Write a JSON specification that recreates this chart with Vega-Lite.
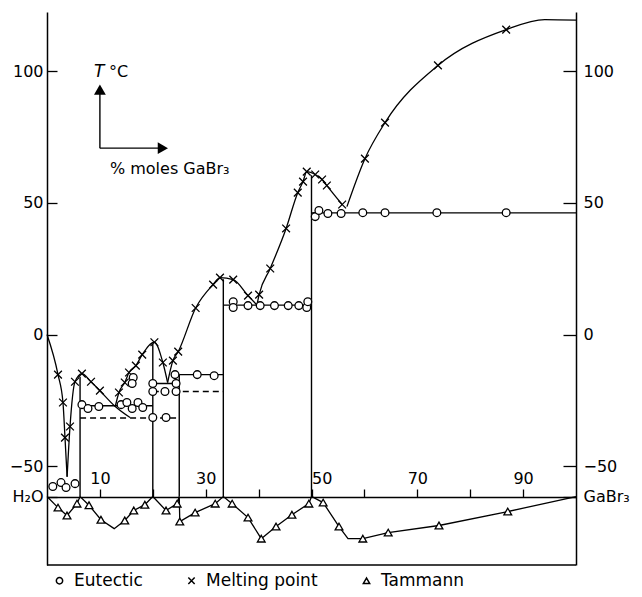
{
  "$schema": "https://vega.github.io/schema/vega-lite/v6.json",
  "width": 529,
  "height": 553,
  "autosize": {"type": "none"},
  "padding": {"left": 47, "top": 12, "right": 66, "bottom": 32},
  "background": "white",
  "config": {
    "view": {"stroke": null},
    "axis": {"grid": false, "domainColor": "black", "tickColor": "black", "labelColor": "black", "labelFont": "DejaVu Sans", "labelFontSize": 16, "domainWidth": 1.5, "tickWidth": 1.3, "labelOverlap": false, "labelFlush": false},
    "legend": {"labelFont": "DejaVu Sans", "labelFontSize": 17, "labelColor": "black"}
  },
  "datasets": {
    "pts": [
      {"kind": "Melting point", "g": "a", "i": 0, "x": 0, "t": 0, "m": 0},
      {"kind": "Melting point", "g": "a", "i": 1, "x": 2.08, "t": -15.2, "m": 1},
      {"kind": "Melting point", "g": "a", "i": 2, "x": 3.02, "t": -25.8, "m": 1},
      {"kind": "Melting point", "g": "a", "i": 3, "x": 3.4, "t": -39.1, "m": 1},
      {"kind": "Melting point", "g": "a", "i": 4, "x": 3.8, "t": -54, "m": 0},
      {"kind": "Melting point", "g": "b", "i": 0, "x": 3.8, "t": -54, "m": 0},
      {"kind": "Melting point", "g": "b", "i": 1, "x": 4.35, "t": -34.9, "m": 1},
      {"kind": "Melting point", "g": "b", "i": 2, "x": 5.29, "t": -17.9, "m": 1},
      {"kind": "Melting point", "g": "b", "i": 3, "x": 6.6, "t": -14.8, "m": 1},
      {"kind": "Melting point", "g": "b", "i": 4, "x": 8.32, "t": -17.9, "m": 1},
      {"kind": "Melting point", "g": "b", "i": 5, "x": 10.0, "t": -21.3, "m": 1},
      {"kind": "Melting point", "g": "b", "i": 6, "x": 12.9, "t": -27.3, "m": 0},
      {"kind": "Melting point", "g": "b", "i": 7, "x": 15.7, "t": -31.5, "m": 0},
      {"kind": "Melting point", "g": "c", "i": 0, "x": 12.9, "t": -27.3, "m": 0},
      {"kind": "Melting point", "g": "c", "i": 1, "x": 13.6, "t": -22.0, "m": 1},
      {"kind": "Melting point", "g": "c", "i": 2, "x": 14.7, "t": -18.2, "m": 1},
      {"kind": "Melting point", "g": "c", "i": 3, "x": 15.5, "t": -14.4, "m": 1},
      {"kind": "Melting point", "g": "c", "i": 4, "x": 16.8, "t": -11.8, "m": 1},
      {"kind": "Melting point", "g": "c", "i": 5, "x": 18.0, "t": -7.6, "m": 1},
      {"kind": "Melting point", "g": "c", "i": 6, "x": 20.3, "t": -2.9, "m": 1},
      {"kind": "Melting point", "g": "c", "i": 7, "x": 21.9, "t": -10.6, "m": 1},
      {"kind": "Melting point", "g": "c", "i": 8, "x": 22.8, "t": -18.2, "m": 0},
      {"kind": "Melting point", "g": "d", "i": 0, "x": 22.8, "t": -18.2, "m": 0},
      {"kind": "Melting point", "g": "d", "i": 1, "x": 23.8, "t": -9.9, "m": 1},
      {"kind": "Melting point", "g": "d", "i": 2, "x": 24.8, "t": -6.5, "m": 1},
      {"kind": "Melting point", "g": "d", "i": 3, "x": 28.1, "t": 10.1, "m": 1},
      {"kind": "Melting point", "g": "d", "i": 4, "x": 31.4, "t": 19.0, "m": 1},
      {"kind": "Melting point", "g": "d", "i": 5, "x": 32.7, "t": 21.6, "m": 1},
      {"kind": "Melting point", "g": "d", "i": 6, "x": 35.2, "t": 20.9, "m": 1},
      {"kind": "Melting point", "g": "d", "i": 7, "x": 38.0, "t": 14.8, "m": 1},
      {"kind": "Melting point", "g": "d", "i": 8, "x": 39.6, "t": 11.4, "m": 0},
      {"kind": "Melting point", "g": "e", "i": 0, "x": 39.7, "t": 11.4, "m": 0},
      {"kind": "Melting point", "g": "e", "i": 1, "x": 40.1, "t": 15.2, "m": 1},
      {"kind": "Melting point", "g": "e", "i": 2, "x": 42.2, "t": 25.1, "m": 1},
      {"kind": "Melting point", "g": "e", "i": 3, "x": 45.2, "t": 40.3, "m": 1},
      {"kind": "Melting point", "g": "e", "i": 4, "x": 47.4, "t": 53.9, "m": 1},
      {"kind": "Melting point", "g": "e", "i": 5, "x": 48.4, "t": 58.1, "m": 1},
      {"kind": "Melting point", "g": "e", "i": 6, "x": 49.1, "t": 61.9, "m": 1},
      {"kind": "Melting point", "g": "e", "i": 7, "x": 50.7, "t": 60.8, "m": 1},
      {"kind": "Melting point", "g": "e", "i": 8, "x": 52.0, "t": 58.9, "m": 1},
      {"kind": "Melting point", "g": "e", "i": 9, "x": 52.9, "t": 56.6, "m": 1},
      {"kind": "Melting point", "g": "e", "i": 10, "x": 55.8, "t": 49.4, "m": 1},
      {"kind": "Melting point", "g": "f", "i": 0, "x": 56.7, "t": 48.6, "m": 0},
      {"kind": "Melting point", "g": "f", "i": 1, "x": 60.1, "t": 66.8, "m": 1},
      {"kind": "Melting point", "g": "f", "i": 2, "x": 63.9, "t": 80.5, "m": 1},
      {"kind": "Melting point", "g": "f", "i": 3, "x": 73.9, "t": 102.2, "m": 1},
      {"kind": "Melting point", "g": "f", "i": 4, "x": 86.8, "t": 115.8, "m": 1},
      {"kind": "Melting point", "g": "f", "i": 5, "x": 94.1, "t": 119.6, "m": 0},
      {"kind": "Melting point", "g": "f", "i": 6, "x": 100, "t": 119.4, "m": 0},
      {"kind": "Tammann", "g": "t", "i": 0, "x": 0, "t": -61.5, "m": 0},
      {"kind": "Tammann", "g": "t", "i": 1, "x": 2.08, "t": -65.7, "m": 1},
      {"kind": "Tammann", "g": "t", "i": 2, "x": 3.78, "t": -68.7, "m": 1},
      {"kind": "Tammann", "g": "t", "i": 3, "x": 5.67, "t": -64.2, "m": 1},
      {"kind": "Tammann", "g": "t", "i": 4, "x": 6.25, "t": -61.5, "m": 0},
      {"kind": "Tammann", "g": "t", "i": 5, "x": 7.94, "t": -64.8, "m": 1},
      {"kind": "Tammann", "g": "t", "i": 6, "x": 10.2, "t": -70.3, "m": 1},
      {"kind": "Tammann", "g": "t", "i": 7, "x": 12.7, "t": -73.7, "m": 0},
      {"kind": "Tammann", "g": "t", "i": 8, "x": 14.7, "t": -70.6, "m": 1},
      {"kind": "Tammann", "g": "t", "i": 9, "x": 16.4, "t": -66.8, "m": 1},
      {"kind": "Tammann", "g": "t", "i": 10, "x": 18.5, "t": -64.6, "m": 1},
      {"kind": "Tammann", "g": "t", "i": 11, "x": 20, "t": -61.5, "m": 0},
      {"kind": "Tammann", "g": "t", "i": 12, "x": 22.5, "t": -66.8, "m": 1},
      {"kind": "Tammann", "g": "t", "i": 13, "x": 24.6, "t": -64.2, "m": 1},
      {"kind": "Tammann", "g": "t", "i": 14, "x": 25, "t": -61.5, "m": 0},
      {"kind": "Tammann", "g": "t", "i": 15, "x": 25.1, "t": -71.0, "m": 1},
      {"kind": "Tammann", "g": "t", "i": 16, "x": 28.0, "t": -67.6, "m": 1},
      {"kind": "Tammann", "g": "t", "i": 17, "x": 31.8, "t": -64.2, "m": 1},
      {"kind": "Tammann", "g": "t", "i": 18, "x": 33.33, "t": -61.5, "m": 0},
      {"kind": "Tammann", "g": "t", "i": 19, "x": 35.0, "t": -64.2, "m": 1},
      {"kind": "Tammann", "g": "t", "i": 20, "x": 38.0, "t": -69.5, "m": 1},
      {"kind": "Tammann", "g": "t", "i": 21, "x": 40.5, "t": -77.5, "m": 1},
      {"kind": "Tammann", "g": "t", "i": 22, "x": 43.3, "t": -72.9, "m": 1},
      {"kind": "Tammann", "g": "t", "i": 23, "x": 46.3, "t": -68.4, "m": 1},
      {"kind": "Tammann", "g": "t", "i": 24, "x": 49.5, "t": -64.2, "m": 1},
      {"kind": "Tammann", "g": "t", "i": 25, "x": 50, "t": -61.5, "m": 0},
      {"kind": "Tammann", "g": "t", "i": 26, "x": 52.2, "t": -63.8, "m": 1},
      {"kind": "Tammann", "g": "t", "i": 27, "x": 55.2, "t": -72.9, "m": 1},
      {"kind": "Tammann", "g": "t", "i": 28, "x": 56.9, "t": -77.5, "m": 0},
      {"kind": "Tammann", "g": "t", "i": 29, "x": 59.7, "t": -77.5, "m": 1},
      {"kind": "Tammann", "g": "t", "i": 30, "x": 64.5, "t": -75.2, "m": 1},
      {"kind": "Tammann", "g": "t", "i": 31, "x": 74.1, "t": -72.5, "m": 1},
      {"kind": "Tammann", "g": "t", "i": 32, "x": 87.1, "t": -67.2, "m": 1},
      {"kind": "Tammann", "g": "t", "i": 33, "x": 100, "t": -61.5, "m": 0},
      {"kind": "Eutectic", "x": 1.1, "t": -57.7, "m": 1},
      {"kind": "Eutectic", "x": 2.65, "t": -56.2, "m": 1},
      {"kind": "Eutectic", "x": 3.6, "t": -58.1, "m": 1},
      {"kind": "Eutectic", "x": 5.3, "t": -56.6, "m": 1},
      {"kind": "Eutectic", "x": 6.6, "t": -26.6, "m": 1},
      {"kind": "Eutectic", "x": 7.75, "t": -28.1, "m": 1},
      {"kind": "Eutectic", "x": 9.8, "t": -27.3, "m": 1},
      {"kind": "Eutectic", "x": 14.0, "t": -26.6, "m": 1},
      {"kind": "Eutectic", "x": 15.1, "t": -25.8, "m": 1},
      {"kind": "Eutectic", "x": 16.1, "t": -28.1, "m": 1},
      {"kind": "Eutectic", "x": 17.2, "t": -25.8, "m": 1},
      {"kind": "Eutectic", "x": 18.1, "t": -27.7, "m": 1},
      {"kind": "Eutectic", "x": 16.3, "t": -16.3, "m": 1},
      {"kind": "Eutectic", "x": 16.1, "t": -18.6, "m": 1},
      {"kind": "Eutectic", "x": 20.0, "t": -31.5, "m": 1},
      {"kind": "Eutectic", "x": 22.5, "t": -31.5, "m": 1},
      {"kind": "Eutectic", "x": 20.0, "t": -18.6, "m": 1},
      {"kind": "Eutectic", "x": 20.0, "t": -21.6, "m": 1},
      {"kind": "Eutectic", "x": 22.3, "t": -21.6, "m": 1},
      {"kind": "Eutectic", "x": 24.4, "t": -18.6, "m": 1},
      {"kind": "Eutectic", "x": 24.4, "t": -21.6, "m": 1},
      {"kind": "Eutectic", "x": 24.2, "t": -15.2, "m": 1},
      {"kind": "Eutectic", "x": 28.4, "t": -15.2, "m": 1},
      {"kind": "Eutectic", "x": 31.6, "t": -15.6, "m": 1},
      {"kind": "Eutectic", "x": 35.2, "t": 12.5, "m": 1},
      {"kind": "Eutectic", "x": 35.2, "t": 10.3, "m": 1},
      {"kind": "Eutectic", "x": 38.0, "t": 11.0, "m": 1},
      {"kind": "Eutectic", "x": 40.3, "t": 11.0, "m": 1},
      {"kind": "Eutectic", "x": 43.0, "t": 11.0, "m": 1},
      {"kind": "Eutectic", "x": 45.6, "t": 11.0, "m": 1},
      {"kind": "Eutectic", "x": 47.6, "t": 11.0, "m": 1},
      {"kind": "Eutectic", "x": 49.1, "t": 10.3, "m": 1},
      {"kind": "Eutectic", "x": 49.3, "t": 12.5, "m": 1},
      {"kind": "Eutectic", "x": 50.7, "t": 44.8, "m": 1},
      {"kind": "Eutectic", "x": 51.4, "t": 47.1, "m": 1},
      {"kind": "Eutectic", "x": 53.1, "t": 46.0, "m": 1},
      {"kind": "Eutectic", "x": 55.6, "t": 46.0, "m": 1},
      {"kind": "Eutectic", "x": 59.7, "t": 46.3, "m": 1},
      {"kind": "Eutectic", "x": 63.9, "t": 46.3, "m": 1},
      {"kind": "Eutectic", "x": 73.7, "t": 46.3, "m": 1},
      {"kind": "Eutectic", "x": 86.8, "t": 46.3, "m": 1}
    ],
    "rules": [
      {"x": 6.25, "x2": 20, "t": -27.0, "t2": -27.0, "d": "s"},
      {"x": 20, "x2": 25, "t": -18.6, "t2": -18.6, "d": "s"},
      {"x": 25, "x2": 33.33, "t": -15.2, "t2": -15.2, "d": "s"},
      {"x": 33.33, "x2": 50, "t": 11.2, "t2": 11.2, "d": "s"},
      {"x": 50, "x2": 100, "t": 46.2, "t2": 46.2, "d": "s"},
      {"x": 6.25, "x2": 25, "t": -31.7, "t2": -31.7, "d": "d"},
      {"x": 20, "x2": 33.33, "t": -21.6, "t2": -21.6, "d": "d"},
      {"x": 6.25, "x2": 6.25, "t": -61.5, "t2": -16, "d": "s"},
      {"x": 20, "x2": 20, "t": -61.5, "t2": -3.5, "d": "s"},
      {"x": 25, "x2": 25, "t": -61.5, "t2": -15.2, "d": "s"},
      {"x": 33.33, "x2": 33.33, "t": -61.5, "t2": 21, "d": "s"},
      {"x": 50, "x2": 50, "t": -61.5, "t2": 60.5, "d": "s"},
      {"x": 10, "x2": 10, "t": 70.8, "t2": 93, "d": "s"},
      {"x": 10, "x2": 21.9, "t": 70.8, "t2": 70.8, "d": "s"}
    ],
    "heads": [
      {"x": 10, "t": 93.0, "dir": "up"},
      {"x": 21.9, "t": 70.8, "dir": "right"}
    ],
    "notes": [
      {"label": "T", "x": 8.9, "t": 99.9, "it": 1},
      {"label": "°C", "x": 11.7, "t": 99.9, "it": 0},
      {"label": "% moles GaBr₃", "x": 11.9, "t": 62.7, "it": 0}
    ],
    "frame": [
      {"x": 0, "t": -87.5},
      {"x": 100, "t": -87.5}
    ]
  },
  "encoding": {
    "x": {"field": "x", "type": "quantitative", "scale": {"domain": [0, 100], "nice": false, "zero": false},
      "axis": {"orient": "bottom", "offset": -68, "values": [10, 20, 30, 40, 50, 60, 70, 80, 90], "tickSize": -8, "labelPadding": -6, "labelBaseline": "alphabetic",
        "labelExpr": "datum.value % 20 == 10 ? datum.label : ''",
        "labelAlign": {"condition": {"test": "datum.value == 50", "value": "left"}, "value": "center"}, "title": null}}
  },
  "layer": [
    {
      "encoding": {
        "y": {"field": "t", "type": "quantitative", "scale": {"domain": [-87.5, 122.5], "nice": false, "zero": false},
          "axis": {"orient": "left", "values": [-61.5, -50, 0, 50, 100], "tickSize": -10, "labelPadding": 14,
            "labelExpr": "datum.value == -61.5 ? 'H₂O' : datum.label", "title": null}}
      },
      "layer": [
        {
          "data": {"name": "rules"},
          "mark": {"type": "rule", "color": "black", "strokeWidth": 1.4},
          "encoding": {
            "x2": {"field": "x2"},
            "y2": {"field": "t2"},
            "strokeDash": {"field": "d", "type": "nominal", "scale": {"domain": ["s", "d"], "range": [[1, 0], [6, 4]]}, "legend": null}
          }
        },
        {
          "data": {"name": "pts"},
          "transform": [{"filter": "datum.kind == 'Melting point'"}],
          "mark": {"type": "line", "color": "black", "strokeWidth": 1.3, "interpolate": "monotone"},
          "encoding": {
            "detail": {"field": "g", "type": "nominal"},
            "order": {"field": "i", "type": "quantitative"}
          }
        },
        {
          "data": {"name": "pts"},
          "transform": [{"filter": "datum.kind == 'Tammann'"}],
          "mark": {"type": "line", "color": "black", "strokeWidth": 1.3},
          "encoding": {
            "order": {"field": "i", "type": "quantitative"}
          }
        },
        {
          "data": {"name": "pts"},
          "transform": [{"filter": "datum.m == 1"}],
          "mark": {"type": "point", "filled": true, "fill": "white", "stroke": "black", "strokeWidth": 1.3, "opacity": 1, "size": 60},
          "encoding": {
            "shape": {"field": "kind", "type": "nominal",
              "scale": {"domain": ["Eutectic", "Melting point", "Tammann"], "range": ["circle", "M-1,-1L1,1M-1,1L1,-1", "triangle-up"]},
              "legend": {"orient": "none", "legendX": 4, "legendY": 560, "direction": "horizontal", "title": null, "columnPadding": 40, "symbolSize": 40, "labelOffset": 6,
                "encode": {"symbols": {"update": {"stroke": {"value": "black"}, "fill": {"value": "white"}, "strokeWidth": {"value": 1.4}, "opacity": {"value": 1}}}}}}
          }
        },
        {
          "data": {"name": "heads"},
          "transform": [{"filter": "datum.dir == 'up'"}],
          "mark": {"type": "point", "shape": "triangle-up", "filled": true, "color": "black", "size": 140, "opacity": 1}
        },
        {
          "data": {"name": "heads"},
          "transform": [{"filter": "datum.dir == 'right'"}],
          "mark": {"type": "point", "shape": "triangle-right", "filled": true, "color": "black", "size": 140, "opacity": 1}
        },
        {
          "data": {"name": "notes"},
          "transform": [{"filter": "datum.it == 1"}],
          "mark": {"type": "text", "align": "left", "baseline": "middle", "font": "DejaVu Sans", "fontSize": 17, "fontStyle": "italic", "color": "black"},
          "encoding": {"text": {"field": "label"}}
        },
        {
          "data": {"name": "notes"},
          "transform": [{"filter": "datum.it == 0"}],
          "mark": {"type": "text", "align": "left", "baseline": "middle", "font": "DejaVu Sans", "fontSize": 16, "color": "black"},
          "encoding": {"text": {"field": "label"}}
        }
      ]
    },
    {
      "data": {"name": "frame"},
      "mark": {"type": "line", "color": "black", "strokeWidth": 1.5},
      "encoding": {
        "y": {"field": "t", "type": "quantitative", "scale": {"domain": [-87.5, 122.5], "nice": false, "zero": false},
          "axis": {"orient": "right", "values": [-61.5, -50, 0, 50, 100], "tickSize": -13, "labelPadding": 20,
            "labelExpr": "datum.value == -61.5 ? 'GaBr₃' : datum.label", "title": null}}
      }
    }
  ],
  "resolve": {"axis": {"y": "independent"}}
}
